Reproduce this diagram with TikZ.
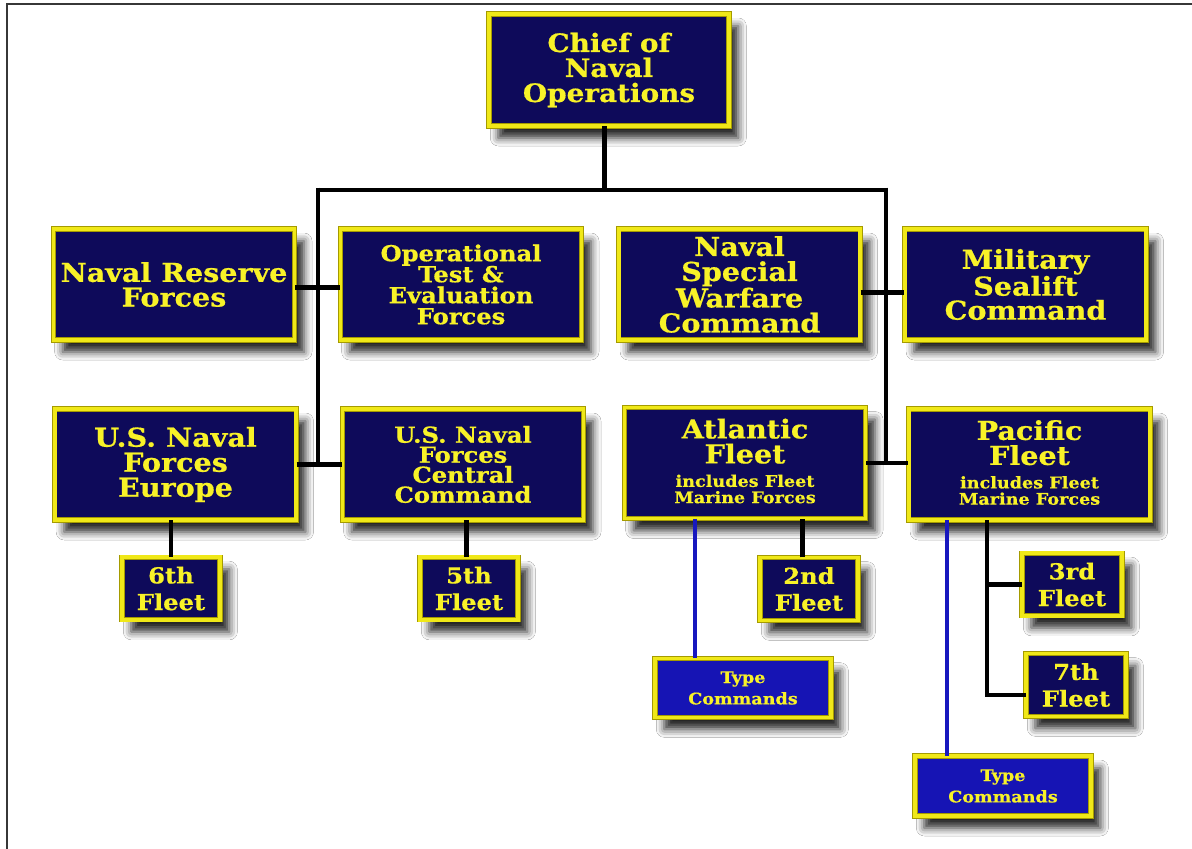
\documentclass[tikz,border=0pt]{standalone}
\usepackage{fontspec}
\setmainfont{DejaVu Serif}
\newfontfamily\orgface{DejaVu Serif Bold}[FakeStretch=1.1, FakeBold=0.6]
\usetikzlibrary{shadows.blur}
\definecolor{navy}{RGB}{14,10,90}
\definecolor{tcblue}{RGB}{22,20,180}
\definecolor{ybright}{RGB}{240,232,24}
\definecolor{ydark}{RGB}{165,155,0}
\definecolor{txty}{RGB}{248,242,40}
\definecolor{lnblue}{RGB}{24,24,190}
\definecolor{framegray}{RGB}{55,55,55}
\newcommand\orgfont[2]{\orgface\fontsize{#1}{#2}\selectfont}
\newcommand\smallpair[2]{\orgfont{12}{10.5}\begin{tabular}{@{}c@{}}#1\\#2\end{tabular}}
\tikzset{
  orgbox/.style={draw=ydark, double=ybright, double distance=2.6pt, line width=0.6pt,
    fill=navy, text=txty, align=center, inner sep=0pt,
    blur shadow={shadow xshift=7pt, shadow yshift=-9pt, shadow blur radius=6pt, shadow opacity=85}},
  bigbox/.style={orgbox, minimum width=181pt, minimum height=83.25pt},
  fleetbox/.style={orgbox, minimum width=73.5pt, minimum height=47pt, font=\orgfont{16.5}{20}},
  typebox/.style={orgbox, fill=tcblue, minimum width=132pt, minimum height=44pt, font=\orgfont{12}{16}},
  link/.style={line width=3.5pt, black},
  bluelink/.style={line width=3pt, lnblue},
  framestyle/.style={line width=2.2pt, framegray}
}
\begin{document}
\begin{tikzpicture}[x=0.75pt,y=-0.75pt]
\useasboundingbox (0,0) rectangle (1192,849);
\fill[white] (0,0) rectangle (1192,849);
\draw[framestyle] (7,849) -- (7,4) -- (1192,4);

% top
\node[orgbox, minimum width=180pt, minimum height=84pt, font=\orgfont{19}{18.75}] (cno) at (609,70) {Chief of\\Naval\\Operations};

% second row
\node[bigbox, font=\orgfont{19.5}{18.5}] (nrf) at (174,284.5) {Naval Reserve\\Forces};
\node[bigbox, font=\orgfont{16.5}{15.75}] (otef) at (461,284.5) {Operational\\Test \&\\Evaluation\\Forces};
\node[bigbox, font=\orgfont{19.5}{18.75}] (nswc) at (739.5,284.5) {Naval\\Special\\Warfare\\Command};
\node[bigbox, font=\orgfont{19.5}{18}] (msc) at (1025.5,284.5) {Military\\Sealift\\Command};

% third row
\node[bigbox, font=\orgfont{19.5}{18.75}] (eur) at (175.5,464.5) {U.S. Naval\\Forces\\Europe};
\node[bigbox, font=\orgfont{16.5}{15}] (cent) at (463,464.5) {U.S. Naval\\Forces\\Central\\Command};
\node[bigbox, font=\orgfont{19.5}{18.75}] (atl) at (745,463) {Atlantic\\Fleet\\[5pt]\smallpair{includes Fleet}{Marine Forces}};
\node[bigbox, font=\orgfont{19.5}{18.75}] (pac) at (1029.5,464.5) {Pacific\\Fleet\\[5pt]\smallpair{includes Fleet}{Marine Forces}};

% fleets
\node[fleetbox] (f6) at (171,588.5) {6th\\Fleet};
\node[fleetbox] (f5) at (469,588.5) {5th\\Fleet};
\node[fleetbox] (f2) at (809,589) {2nd\\Fleet};
\node[fleetbox, minimum width=75pt] (f3) at (1072,584.5) {3rd\\Fleet};
\node[fleetbox, minimum width=75pt] (f7) at (1076,685) {7th\\Fleet};

% type commands
\node[typebox] (tc1) at (743,688) {Type\\Commands};
\node[typebox, minimum height=45pt] (tc2) at (1003,786) {Type\\Commands};

% connectors
\coordinate (busL) at (318,190);
\coordinate (busR) at (886,190);
\draw[link] ([xshift=-3.5pt]cno.south) -- ([xshift=-3.5pt]cno.south |- busL);
\draw[link] (busL) -- (busR);
\draw[link] ([yshift=1.75pt]busL) -- (busL |- eur.east);
\draw[link] ([yshift=1.75pt]busR) -- (busR |- pac.west);
\draw[link] ([yshift=-2pt]nrf.east) -- ([yshift=-2pt]otef.west);
\draw[link] ([yshift=-6pt]nswc.east) -- ([yshift=-6pt]msc.west);
\draw[link] (eur.east) -- (cent.west);
\draw[link] (atl.east) -- (atl.east -| pac.west);

\draw[link] (f6.north) -- (f6.north |- eur.south);
\draw[link] ([xshift=-2pt]f5.north) -- ([xshift=-2pt]f5.north |- cent.south);
\draw[link] ([xshift=-5pt]f2.north) -- ([xshift=-5pt]f2.north |- atl.south);

\coordinate (t1) at (695,600);
\draw[bluelink] (t1 |- atl.south) -- (t1 |- tc1.north);
\coordinate (t2) at (947,600);
\draw[bluelink] (t2 |- pac.south) -- (t2 |- tc2.north);

\coordinate (p7) at (987,695);
\draw[link] (p7 |- pac.south) -- (p7) -- (p7 -| f7.west);
\draw[link] (p7 |- f3.west) -- (f3.west);
\end{tikzpicture}
\end{document}
